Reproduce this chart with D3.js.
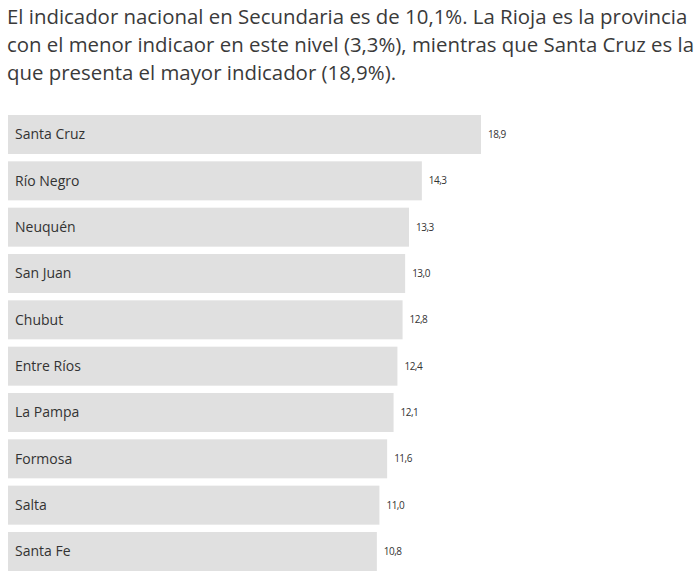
<!DOCTYPE html>
<html>
<head>
<meta charset="utf-8">
<script src="https://cdn.jsdelivr.net/npm/d3@7"></script>
<style>
  body { margin: 0; background: #fff; font-family: "Open Sans", sans-serif; }
</style>
</head>
<body>
<script>
// textos y datos
var titleLines = [
    "El indicador nacional en Secundaria es de 10,1%. La Rioja es la provincia",
    "con el menor indicaor en este nivel (3,3%), mientras que Santa Cruz es la",
    "que presenta el mayor indicador (18,9%)."
];
var provincias = ["Santa Cruz", "Río Negro", "Neuquén", "San Juan", "Chubut",
    "Entre Ríos", "La Pampa", "Formosa", "Salta", "Santa Fe"];
var valores = [18.9, 14.3, 13.3, 13.0, 12.8, 12.4, 12.1, 11.6, 11.0, 10.8];

var width = 700, height = 577;

var svg = d3.select("body").append("svg")
    .attr("width", width)
    .attr("height", height);

svg.selectAll("text.title")
    .data(titleLines)
    .enter().append("text")
    .attr("class", "title")
    .attr("x", 7)
    .attr("y", function (d, i) { return 23.5 + i * 28.4; })
    .attr("fill", "#3a3a3a")
    .style("font-size", "20.4px")
    .text(function (d) { return d; });

var data = provincias.map(function (p, i) { return { name: p, value: valores[i] }; });

var x = d3.scaleLinear().domain([0, 18.9]).range([230, 473]);
var y = d3.scaleBand().domain(provincias).range([115, 571]).paddingInner(0.158).paddingOuter(0);

var g = svg.append("g").attr("transform", "translate(8,0)");

g.selectAll("rect")
    .data(data)
    .enter().append("rect")
    .attr("x", 0)
    .attr("y", function (d) { return y(d.name); })
    .attr("width", function (d) { return x(d.value); })
    .attr("height", y.bandwidth())
    .attr("fill", "#e0e0e0");

g.selectAll("text.name")
    .data(data)
    .enter().append("text")
    .attr("class", "name")
    .attr("x", 7)
    .attr("y", function (d) { return y(d.name) + y.bandwidth() / 2; })
    .attr("dy", "0.35em")
    .attr("fill", "#333")
    .style("font-size", "14px")
    .text(function (d) { return d.name; });

var fmt = function (v) { return d3.format(".1f")(v).replace(".", ","); };

g.selectAll("text.value")
    .data(data)
    .enter().append("text")
    .attr("class", "value")
    .attr("x", function (d) { return x(d.value) + 7; })
    .attr("y", function (d) { return y(d.name) + y.bandwidth() / 2; })
    .attr("dy", "0.35em")
    .attr("fill", "#333")
    .style("font-size", "10px")
    .style("letter-spacing", "-0.5px")
    .text(function (d) { return fmt(d.value); });
</script>
</body>
</html>
